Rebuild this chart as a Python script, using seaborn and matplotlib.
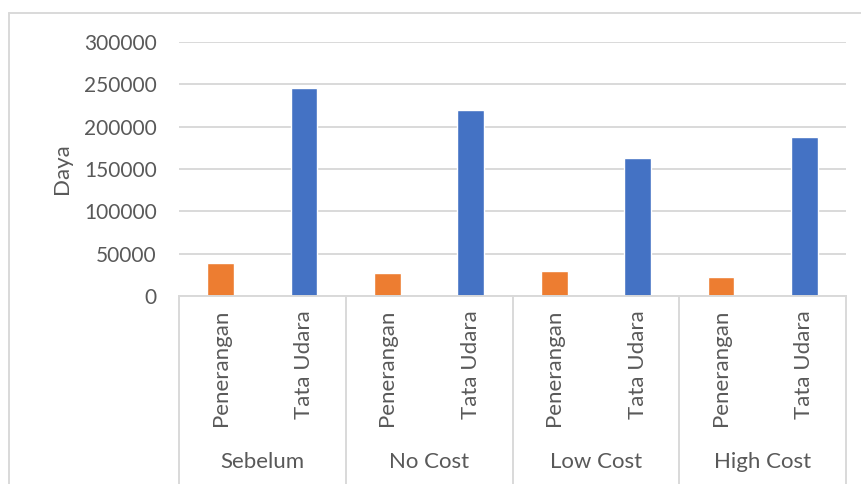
import pandas as pd
import matplotlib
matplotlib.use('Agg')
import matplotlib.pyplot as plt
import matplotlib.transforms as mtransforms
from matplotlib.lines import Line2D
import seaborn as sns

# data
groups = ["Sebelum", "No Cost", "Low Cost", "High Cost"]
kinds = ["Penerangan", "Tata Udara"]
penerangan = [38500, 27500, 30000, 22000]
tata_udara = [245500, 219500, 163000, 188000]
y_ticks = [0, 50000, 100000, 150000, 200000, 250000, 300000]

colors = {"Penerangan": "#ED7D31", "Tata Udara": "#4472C4"}
text_color = "#595959"
grid_color = "#d9d9d9"

# long table, one row per bar
rows = []
for g, p, t in zip(groups, penerangan, tata_udara):
    rows.append({"slot": g + "|Penerangan", "group": g, "kind": "Penerangan", "value": p})
    rows.append({"slot": g + "|Tata Udara", "group": g, "kind": "Tata Udara", "value": t})
df = pd.DataFrame(rows)
order = list(df["slot"])

sns.set_theme(style="white")
plt.rcParams['font.family'] = ['Lato', 'DejaVu Sans']

W, H = 861, 484
fig = plt.figure(figsize=(W / 100, H / 100), dpi=100)
ax = fig.add_axes([179 / W, (H - 296) / H, (846 - 179) / W, (296 - 42) / H])

sns.barplot(data=df, x="slot", y="value", hue="kind", order=order,
            palette=colors, dodge=False, width=0.32, legend=False,
            saturation=1, ax=ax)

ax.set_ylim(0, 300000)
ax.set_xlim(-0.5, len(order) - 0.5)
ax.set_yticks(y_ticks)
ax.set_yticklabels([str(v) for v in y_ticks], fontsize=15, color=text_color)
ax.set_xticks(range(len(order)))
ax.set_xticklabels(list(df["kind"]), rotation=90, fontsize=16, color=text_color)
ax.tick_params(axis="both", length=0)
ax.tick_params(axis="y", pad=16)
ax.tick_params(axis="x", pad=10)
ax.set_xlabel("")
ax.set_ylabel("Daya", fontsize=16, color=text_color, labelpad=9)

ax.yaxis.grid(True, color=grid_color, linewidth=1.4)
ax.set_axisbelow(True)
for side in ["top", "left", "right"]:
    ax.spines[side].set_visible(False)
ax.spines["bottom"].set_color(grid_color)
ax.spines["bottom"].set_linewidth(1.4)

# second level of the category axis: group names and separators
trans = mtransforms.blended_transform_factory(ax.transData, ax.transAxes)
n_kinds = len(kinds)
for i, g in enumerate(groups):
    center = i * n_kinds + (n_kinds - 1) / 2
    ax.text(center, -0.654, g, transform=trans, ha="center", va="center",
            fontsize=16, color=text_color)
for i in range(len(groups) + 1):
    xb = i * n_kinds - 0.5
    ax.plot([xb, xb], [0, -0.75], transform=trans, color=grid_color,
            linewidth=1.4, clip_on=False)

# outer chart border
fig.add_artist(Line2D([9 / W, 9 / W], [0, 1 - 13 / H], transform=fig.transFigure,
                      color=grid_color, linewidth=1.4))
fig.add_artist(Line2D([9 / W, 1], [1 - 13 / H, 1 - 13 / H], transform=fig.transFigure,
                      color=grid_color, linewidth=1.4))

fig.savefig("out.png", dpi=100)
